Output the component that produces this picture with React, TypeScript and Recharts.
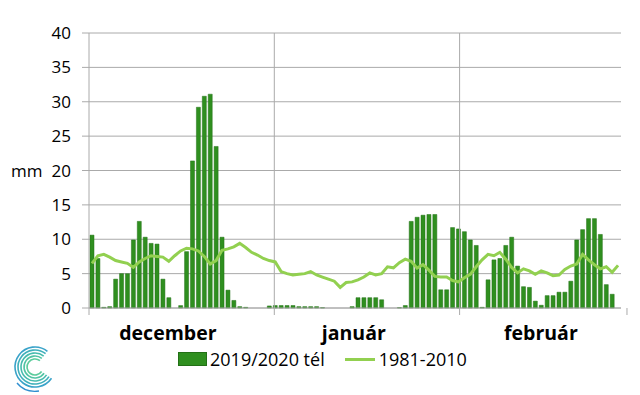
import React from 'react';
import {
    ComposedChart,
    Bar,
    Line,
    XAxis,
    YAxis,
    CartesianGrid,
    ReferenceLine
} from 'recharts';

// daily precipitation, winter 2019/2020 (mm)
const decRain = [10.6, 7.2, 0.1, 0.2, 4.2, 5.0, 5.0, 9.9, 12.6, 10.3, 9.4, 9.3, 4.2, 1.5, 0, 0.35, 8.2, 21.4, 29.2, 30.8, 31.1, 23.5, 10.3, 2.6, 1.1, 0.2, 0.1, 0, 0, 0, 0.3];
const janRain = [0.36, 0.36, 0.36, 0.36, 0.2, 0.2, 0.2, 0.2, 0.05, 0, 0, 0, 0, 0.2, 1.5, 1.5, 1.5, 1.5, 1.2, 0, 0, 0.05, 0.36, 12.6, 13.2, 13.5, 13.6, 13.6, 2.65, 2.65, 11.7];
const febRain = [11.5, 11.1, 9.9, 9.1, 0.1, 4.1, 7.0, 7.2, 9.1, 10.3, 6.1, 3.1, 3.0, 1.0, 0.4, 1.8, 1.8, 2.3, 2.3, 3.9, 9.9, 11.4, 13.0, 13.0, 10.7, 3.4, 2.0, null];

// 1981-2010 daily mean (mm)
const decAvg = [6.5, 7.6, 7.8, 7.4, 6.9, 6.7, 6.5, 5.9, 6.7, 7.2, 7.6, 7.5, 7.4, 6.8, 7.6, 8.3, 8.7, 8.6, 8.3, 7.5, 6.4, 6.9, 8.4, 8.6, 8.9, 9.4, 8.8, 8.1, 7.7, 7.2, 6.9];
const janAvg = [6.7, 5.3, 5.0, 4.8, 4.9, 5.0, 5.3, 4.8, 4.5, 4.2, 3.9, 3.0, 3.7, 3.8, 4.1, 4.5, 5.1, 4.8, 5.0, 6.0, 5.85, 6.6, 7.1, 6.8, 5.8, 6.3, 5.5, 4.6, 4.5, 4.5, 4.0];
const febAvg = [3.8, 4.4, 4.9, 6.0, 7.0, 7.8, 7.6, 8.1, 7.1, 5.9, 5.1, 5.7, 5.4, 4.9, 5.4, 5.1, 4.7, 4.8, 5.6, 6.1, 6.4, 7.8, 7.0, 6.3, 5.7, 6.0, 5.2, 6.2];

const months = ['december', 'január', 'február'];
const monthBounds = [0, 31, 62, 90];
// where the month names sit, in days along the axis
const monthLabelPos = [13.2, 44.3, 75.6];
const yTicks = [0, 5, 10, 15, 20, 25, 30, 35, 40];

const rain = [...decRain, ...janRain, ...febRain];
const avg = [...decAvg, ...janAvg, ...febAvg];
const data = rain.map((r, i) => ({ day: i, rain: r, avg: avg[i] }));

const BAR_COLOR = '#2f8f1f';
const LINE_COLOR = '#92D050';
const GRID = '#aaaaaa';
const FONT = '"Open Sans", sans-serif';

const MonthTick = (props: any) => {
    const { x, y, payload } = props;
    const v = payload.value;
    if (monthBounds.includes(v)) {
        return <line x1={x} x2={x} y1={y} y2={y + 7} stroke={GRID} strokeWidth={1} />;
    }
    const idx = monthLabelPos.indexOf(v);
    return (
        <text x={x} y={y + 32} textAnchor="middle" fontSize={19.5} fontWeight="bold" fontFamily={FONT} fill="#000">
            {months[idx]}
        </text>
    );
};

const Logo = () => (
    <svg width={60} height={60} style={{ position: 'absolute', left: 5, top: 335 }}>
        {[20, 17, 14, 11, 8].map((r, i) => (
            <path
                key={r}
                d={`M ${30 + r * Math.cos(-0.9)} ${32 + r * Math.sin(-0.9)} A ${r} ${r} 0 1 0 ${30 + r * Math.cos(0.6)} ${32 + r * Math.sin(0.6)}`}
                fill="none"
                stroke={['#3aa3c9', '#3fb0bb', '#47bcae', '#52c4a4', '#5ccb9c'][i]}
                strokeWidth={1.6}
            />
        ))}
        <path d="M 12 48 Q 20 58 34 56" fill="none" stroke="#2f8fd0" strokeWidth={1.4} />
    </svg>
);

export default function App() {
    return (
        <div style={{ position: 'absolute', left: 0, top: 0, width: 640, height: 395, background: '#fff', fontFamily: FONT }}>
            <ComposedChart
                width={640}
                height={395}
                data={data}
                margin={{ top: 33, right: 19, left: 0, bottom: 57 }}
            >
                <CartesianGrid horizontal vertical={false} stroke={GRID} xAxisId="num" />
                <XAxis xAxisId="cat" dataKey="day" hide height={0} />
                <XAxis
                    xAxisId="num"
                    type="number"
                    domain={[0, 90]}
                    ticks={[...monthBounds, ...monthLabelPos]}
                    interval={0}
                    height={30}
                    tickSize={0}
                    tickMargin={0}
                    tickLine={false}
                    axisLine={{ stroke: GRID }}
                    tick={<MonthTick />}
                />
                <YAxis
                    domain={[0, 40]}
                    ticks={yTicks}
                    interval={0}
                    width={89}
                    tickSize={7}
                    tickMargin={11}
                    axisLine={{ stroke: GRID }}
                    tickLine={{ stroke: GRID }}
                    tick={{ fontSize: 17, fill: '#000', fontFamily: FONT }}
                    label={{ value: 'mm', position: 'insideLeft', offset: 11, fontSize: 17, fill: '#000', fontFamily: FONT }}
                />
                {monthBounds.slice(1).map((b) => (
                    <ReferenceLine key={b} xAxisId="num" x={b} stroke={GRID} />
                ))}
                <Bar
                    xAxisId="cat"
                    dataKey="rain"
                    fill={BAR_COLOR}
                    stroke="#237016"
                    strokeWidth={0.5}
                    barSize={4}
                    isAnimationActive={false}
                />
                <Line
                    xAxisId="cat"
                    dataKey="avg"
                    type="linear"
                    stroke={LINE_COLOR}
                    strokeWidth={3}
                    dot={false}
                    isAnimationActive={false}
                />
            </ComposedChart>
            <div style={{ position: 'absolute', left: 178, top: 347, display: 'flex', alignItems: 'center', fontSize: 18, color: '#000', whiteSpace: 'nowrap' }}>
                <div style={{ width: 27, height: 12, background: BAR_COLOR, border: '1px solid #237016', marginRight: 3 }} />
                <span>2019/2020 tél</span>
                <div style={{ width: 30, height: 3, background: LINE_COLOR, marginLeft: 20, marginRight: 4 }} />
                <span>1981-2010</span>
            </div>
            <Logo />
        </div>
    );
}
